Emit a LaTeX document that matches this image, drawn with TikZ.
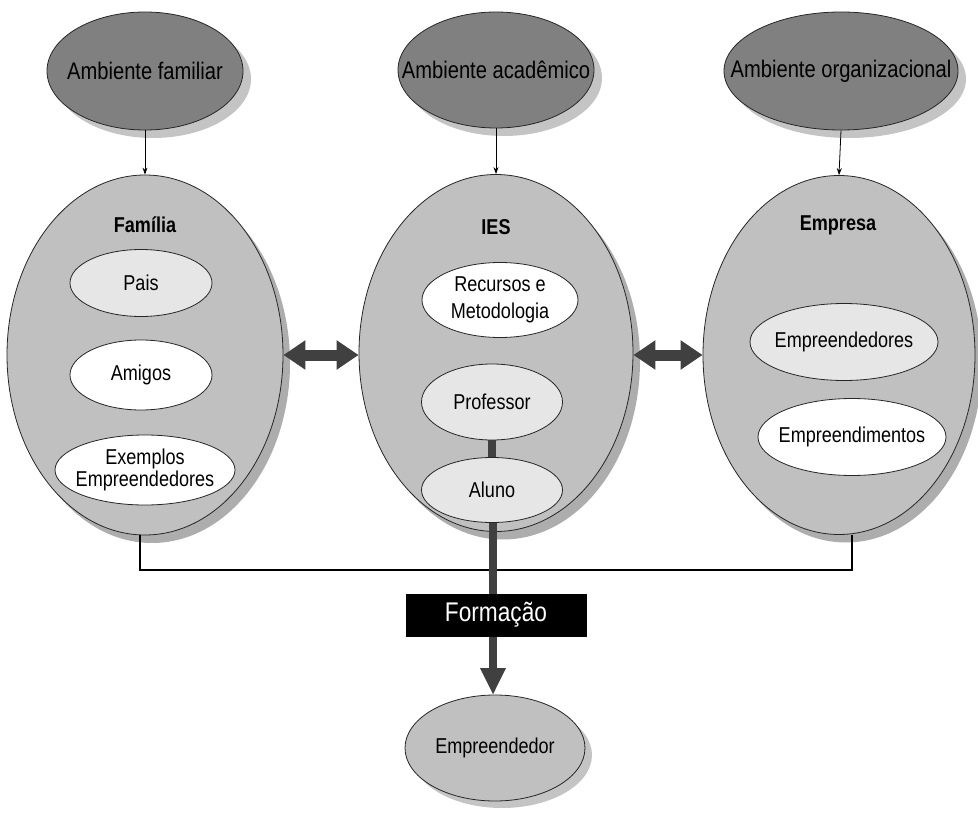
\documentclass[tikz,border=0pt]{standalone}
\usepackage{fontspec}
\setmainfont{Liberation Sans}[FakeStretch=0.84]
\usetikzlibrary{shapes.geometric,shadows,arrows.meta}
\definecolor{topfill}{HTML}{808080}
\definecolor{bigfill}{HTML}{C0C0C0}
\definecolor{lightfill}{HTML}{E6E6E6}
\definecolor{darkarrow}{HTML}{404040}
\definecolor{shadowA}{HTML}{C4C4C4}
\definecolor{shadowB}{HTML}{ADADAD}
\begin{document}
\begin{tikzpicture}[x=1pt,y=-1pt,
  ell/.style={ellipse, draw=black!85, line width=0.8pt, inner sep=0pt},
  toptxt/.style={font=\fontsize{24}{26}\selectfont, align=center, inner sep=0pt},
  intxt/.style={font=\fontsize{21.5}{24}\selectfont, align=center, inner sep=0pt},
  topell/.style={ell, fill=topfill,
    drop shadow={shadow xshift=8pt,shadow yshift=-8pt,fill=shadowA,opacity=1}},
  bigell/.style={ell, fill=bigfill,
    drop shadow={shadow xshift=7pt,shadow yshift=-8pt,fill=shadowB,opacity=1}},
  inwhite/.style={ell, fill=white},
  ingray/.style={ell, fill=lightfill},
  biglabel/.style={font=\bfseries\fontsize{21.5}{24}\selectfont},
  thinarrow/.style={draw=black, line width=0.8pt, -{Stealth[length=7pt,width=5pt]}},
  dblarrow/.style={draw=darkarrow, line width=11pt,
    {Triangle[length=22pt,width=28pt]}-{Triangle[length=22pt,width=28pt]}},
  thickline/.style={draw=darkarrow, line width=8pt},
  bracket/.style={draw=black, line width=2.4pt},
]
\useasboundingbox (0,0) rectangle (978,813);

% top ellipses
\node[topell, minimum width=196pt, minimum height=118pt,
  label={[toptxt]center:Ambiente familiar}] (afam) at (145,71) {};
\node[topell, minimum width=196pt, minimum height=116pt,
  label={[toptxt]center:Ambiente acadêmico}] (aaca) at (496,70) {};
\node[topell, minimum width=234pt, minimum height=118pt,
  label={[toptxt]center:Ambiente organizacional}] (aorg) at (841,71) {};

% big ellipses
\node[bigell, minimum width=276pt, minimum height=360pt] (fam) at (145,355) {};
\node[bigell, minimum width=274pt, minimum height=357pt] (ies) at (496,353) {};
\node[bigell, minimum width=272pt, minimum height=359pt] (empr) at (839,355) {};

\node[biglabel] (lfam) at (145,225) {Família};
\node[biglabel] (lies) at (496,227) {IES};
\node[biglabel] (lempr) at (838,225) {Empresa};

% inner ellipses Familia
\node[ingray, minimum width=142pt, minimum height=67pt,
  label={[intxt]center:Pais}] (pais) at (141,283) {};
\node[inwhite, minimum width=142pt, minimum height=70pt,
  label={[intxt]center:Amigos}] (amigos) at (141,375) {};
\node[inwhite, minimum width=180pt, minimum height=70pt,
  label={[intxt, font=\fontsize{21.5}{22.5}\selectfont]center:Exemplos\\Empreendedores}] (exemp) at (145,470) {};

% inner ellipses IES
\node[inwhite, minimum width=156pt, minimum height=75pt,
  label={[intxt, font=\fontsize{21.5}{27}\selectfont]center:Recursos e\\Metodologia}] (recursos) at (500,300) {};
\node[ingray, minimum width=141pt, minimum height=76pt,
  label={[intxt]center:Professor}] (prof) at (492,402) {};
\coordinate (alunotop) at (492,458);
\draw[thickline] (prof.south) -- (alunotop);
\node[ingray, minimum width=141pt, minimum height=65pt,
  label={[intxt]center:Aluno}] (aluno) at (492,490) {};

% inner ellipses Empresa
\node[ingray, minimum width=188pt, minimum height=77pt,
  label={[intxt]center:Empreendedores}] (empds) at (844,342) {};
\node[inwhite, minimum width=188pt, minimum height=77pt,
  label={[intxt]center:Empreendimentos}] (empts) at (852,437) {};

% thin arrows
\draw[thinarrow] (afam.south) -- (fam.north);
\draw[thinarrow] (aaca.south) -- (ies.north);
\draw[thinarrow] (aorg.south) -- (empr.north);

% double arrows
\draw[dblarrow] (fam.east |- 0,355) -- (ies.west |- 0,355);
\draw[dblarrow] (ies.east |- 0,355) -- (empr.west |- 0,355);

% bracket
\coordinate (bl) at (140,570);
\coordinate (br) at (852,570);
\draw[bracket] ([xshift=-5pt]fam.south) -- (bl) -- (br) -- ([xshift=13pt]empr.south);

% bottom ellipse
\node[ell, fill=bigfill, minimum width=180pt, minimum height=106pt,
  drop shadow={shadow xshift=7pt,shadow yshift=-7pt,fill=shadowA,opacity=1},
  label={[intxt]center:Empreendedor}] (empdor) at (495,748) {};

% thick arrow
\coordinate (arrend) at (493,695);
\draw[draw=darkarrow, line width=8pt, -{Triangle[length=27pt,width=24pt]}] (aluno.south -| arrend) -- (arrend);

% Formacao box
\node[fill=black, text=white, minimum width=181pt, minimum height=43pt, inner sep=0pt,
  font=\fontsize{27}{30}\selectfont] (form) at (496,615) {Formação};

\end{tikzpicture}
\end{document}
